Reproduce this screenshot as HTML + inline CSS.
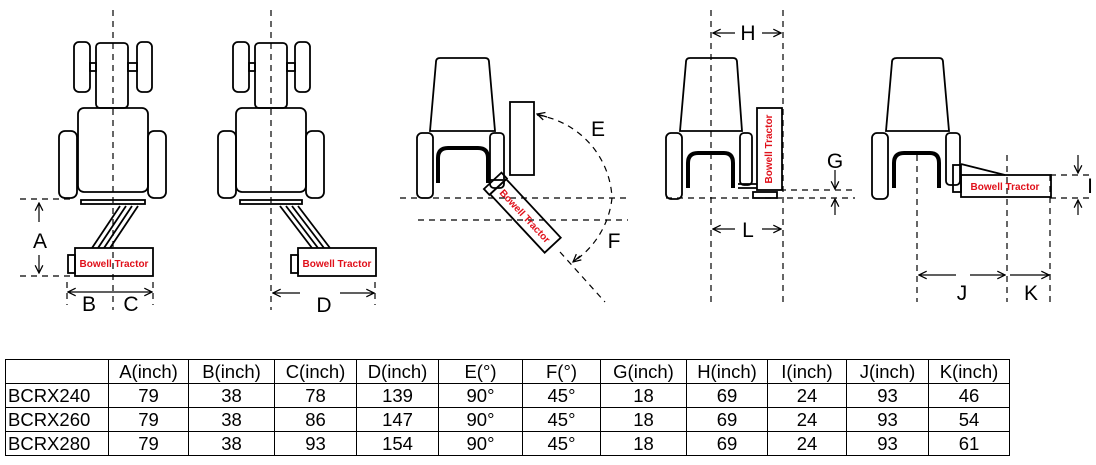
<!DOCTYPE html>
<html><head><meta charset="utf-8"><style>
body{margin:0;background:#fff;width:1096px;height:465px;overflow:hidden;font-family:"Liberation Sans",Arial,sans-serif}
table{position:absolute;left:5px;top:359px;border-collapse:collapse;font-size:18.5px}
td{border:1px solid #000;height:23px;padding:0;text-align:center;line-height:22px}
td.n{text-align:left;padding-left:2px}
</style></head><body>
<svg width="1096" height="355" style="position:absolute;left:0;top:0" font-family="Liberation Sans, Arial, sans-serif">
<defs>
<marker id="a" viewBox="0 0 10 10" refX="9" refY="5" markerWidth="8" markerHeight="8" orient="auto-start-reverse"><path d="M1,1 L9,5 L1,9" fill="none" stroke="#000" stroke-width="1.3"/></marker>
</defs>
<g fill="none" stroke="#000" stroke-width="1.8">
<rect x="74" y="42" width="16" height="50" rx="5"/><rect x="137" y="42" width="15" height="50" rx="5"/>
<rect x="96" y="43" width="32" height="65" rx="4"/>
<rect x="90" y="63" width="6" height="8"/><rect x="128" y="63" width="9" height="8"/>
<rect x="78" y="108" width="70" height="84" rx="6"/>
<rect x="59" y="131" width="18" height="67" rx="6"/><rect x="148" y="131" width="18" height="67" rx="6"/>
<rect x="81" y="200" width="64" height="4"/>
<path d="M120,206 L92,248 M126,206 L98,248 M132,206 L104,248 M138,206 L110,248"/>
<rect x="75" y="248" width="78" height="28"/><rect x="68" y="255" width="7" height="18"/>
<rect x="233" y="42" width="16" height="50" rx="5"/><rect x="295" y="42" width="15" height="50" rx="5"/>
<rect x="255" y="43" width="32" height="65" rx="4"/>
<rect x="249" y="63" width="6" height="8"/><rect x="287" y="63" width="8" height="8"/>
<rect x="236" y="108" width="70" height="84" rx="6"/>
<rect x="218" y="131" width="18" height="67" rx="6"/><rect x="306" y="131" width="18" height="67" rx="6"/>
<rect x="240" y="200" width="62" height="4"/>
<path d="M280,206 L312,248 M286,206 L318,248 M292,206 L324,248 M298,206 L330,248"/>
<rect x="298" y="248" width="78" height="28"/><rect x="291" y="255" width="7" height="18"/>
<path d="M440,58 L485,58 Q489,58 489,62 L495,131 L430,131 L436,62 Q436,58 440,58Z"/>
<rect x="417" y="133" width="16" height="65" rx="5"/><rect x="490" y="133" width="14" height="55" rx="4"/>
<path d="M438,183 V158 Q438,148 448,148 H478 Q488,148 488,158 V183" stroke-width="4"/>
<path d="M488,180 H503"/>
<rect x="510" y="102" width="24" height="73"/>
<g transform="translate(500,174) rotate(47)"><rect x="0" y="-2" width="8" height="24"/><rect x="8" y="-1" width="80" height="22"/></g>
<path d="M690,58 L733,58 Q737,58 737,62 L742,131 L680,131 L686,62 Q686,58 690,58Z"/>
<rect x="666" y="133" width="16" height="66" rx="5"/><rect x="740" y="133" width="12" height="52" rx="4"/>
<path d="M688,188 V163 Q688,153 698,153 H724 Q733,153 733,163 V188" stroke-width="4"/>
<path d="M738,184 H757 M738,188 H757"/>
<rect x="757" y="108" width="25" height="82"/>
<rect x="753" y="192" width="24" height="6"/>
<path d="M897,58 L939,58 Q943,58 943,62 L949,131 L886,131 L892,62 Q892,58 897,58Z"/>
<rect x="872" y="133" width="16" height="66" rx="5"/><rect x="946" y="133" width="14" height="52" rx="4"/>
<path d="M894,188 V163 Q894,153 904,153 H930 Q939,153 939,163 V188" stroke-width="4"/>
<rect x="953" y="165" width="8" height="27"/>
<rect x="961" y="175" width="90" height="22"/>
<path d="M961,164 L1005,175"/>
</g>
<g fill="none" stroke="#000" stroke-width="1.2" stroke-dasharray="6,5">
<path d="M113,10 V310 M271,10 V310"/>
<path d="M20,199 H72 M20,276 H72"/>
<path d="M67,282 V305 M153,282 V305 M375,282 V305"/>
<path d="M400,198 H630 M418,220 H628 M560,252 L605,302"/>
<path d="M537,115 A88,88 0 0 1 612,198"/>
<path d="M612,198 A88,88 0 0 1 573,262"/>
<path d="M711,10 V305 M783,10 V305 M780,190 H855 M666,198 H855"/>
<path d="M917,155 V302 M1007,155 V302 M1050,175 V302 M1050,175 H1090 M1050,198 H1090"/>
</g>
<g fill="none" stroke="#000" stroke-width="1.2" marker-end="url(#a)">
<path d="M39,222 V203"/><path d="M39,255 V273"/>
<path d="M113,292 H68"/><path d="M113,292 H152"/>
<path d="M300,293 H273"/><path d="M340,293 H374"/>
<path d="M735,33 H713"/><path d="M762,33 H781"/>
<path d="M735,229 H713"/><path d="M762,229 H781"/>
<path d="M835,170 V189"/><path d="M835,215 V199"/>
<path d="M1078,155 V173"/><path d="M1078,215 V200"/>
<path d="M956,275 H919"/><path d="M970,275 H1005"/>
<path d="M1010,275 H1049"/>
<path d="M547,117 L537,114"/><path d="M580,256 L573,262"/>
</g>
<g font-size="21" fill="#000" text-anchor="middle">
<text x="40" y="248">A</text><text x="89" y="311">B</text><text x="131" y="311">C</text>
<text x="324" y="312">D</text><text x="598" y="136">E</text><text x="614" y="248">F</text>
<text x="748" y="40">H</text><text x="748" y="237">L</text><text x="835" y="168">G</text>
<text x="1090" y="193">I</text><text x="962" y="300">J</text><text x="1031" y="300">K</text>
</g>
<g font-size="10" font-weight="bold" fill="#e0101a" text-anchor="middle">
<text x="114" y="267">Bowell Tractor</text>
<text x="337" y="267">Bowell Tractor</text>
<text x="1005" y="190">Bowell Tractor</text>
<text transform="translate(772,149) rotate(-90)">Bowell Tractor</text>
<text transform="translate(525,216) rotate(47)" dy="3.5">Bowell Tractor</text>
</g>
</svg>
<table>
<colgroup><col style="width:103px"><col style="width:80px"><col style="width:86px"><col style="width:82px"><col style="width:82px"><col style="width:84px"><col style="width:78px"><col style="width:86px"><col style="width:81px"><col style="width:79px"><col style="width:82px"><col style="width:81px"></colgroup>
<tr><td></td><td>A(inch)</td><td>B(inch)</td><td>C(inch)</td><td>D(inch)</td><td>E(°)</td><td>F(°)</td><td>G(inch)</td><td>H(inch)</td><td>I(inch)</td><td>J(inch)</td><td>K(inch)</td></tr>
<tr><td class="n">BCRX240</td><td>79</td><td>38</td><td>78</td><td>139</td><td>90°</td><td>45°</td><td>18</td><td>69</td><td>24</td><td>93</td><td>46</td></tr>
<tr><td class="n">BCRX260</td><td>79</td><td>38</td><td>86</td><td>147</td><td>90°</td><td>45°</td><td>18</td><td>69</td><td>24</td><td>93</td><td>54</td></tr>
<tr><td class="n">BCRX280</td><td>79</td><td>38</td><td>93</td><td>154</td><td>90°</td><td>45°</td><td>18</td><td>69</td><td>24</td><td>93</td><td>61</td></tr>
</table>
</body></html>
